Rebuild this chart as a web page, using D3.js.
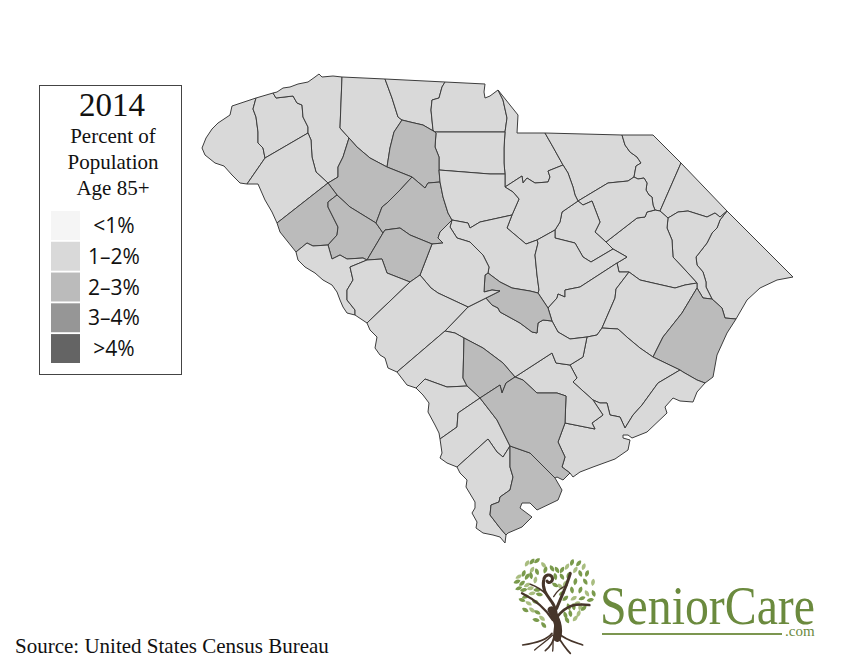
<!DOCTYPE html>
<html>
<head>
<meta charset="utf-8">
<title>South Carolina, percent of population age 85+, 2014</title>
<script src="https://cdnjs.cloudflare.com/ajax/libs/d3/7.8.5/d3.min.js"></script>
<style>
  html, body { margin: 0; background: #fff; }
  svg { display: block; }
  .serif { font-family: "Liberation Serif", serif; fill: #111; }
  .county { stroke: #3d3d3d; stroke-width: 1; stroke-linejoin: round; }
</style>
</head>
<body>
<svg id="chart" width="850" height="672"></svg>
<script>
// Legend
var bandLabels = ["<1%", "1\u20132%", "2\u20133%", "3\u20134%", ">4%"];
var bandBreaks = [1, 2, 3, 4];
var bandColors = ["#f5f5f5", "#d9d9d9", "#bbbbbb", "#969696", "#646464"];

// County borders in map units. Each border is shared by two counties.
var oconeeOuter = [[256,98],[244,102],[232,106],[230,115],[218,123],[212,129],[206,138],[202,148],[205,155],[215,163],[224,166],[232,175],[240,183],[247,184]];
var oconeePickens = [[256,98],[253,109],[256,117],[258,132],[258,143],[263,148],[265,158]];
var oconeeAnderson = [[247,184],[265,158]];
var pickensTop = [[256,98],[273,93]];
var pickensGreenville = [[273,93],[276,98],[293,96],[297,103],[302,105],[303,117],[308,127],[308,133]];
var pickensAnderson = [[265,158],[308,133]];
var greenvilleTop = [[273,93],[277,92],[283,88],[290,87],[298,84],[308,82],[315,77],[319,74],[322,77],[333,76],[342,77]];
var greenvilleSpartanburg = [[342,77],[340,128],[349,138]];
var greenvilleLaurens = [[349,138],[343,157],[338,167],[338,177],[328,183]];
var greenvilleAnderson = [[308,133],[311,140],[312,157],[316,172],[328,183]];
var andersonAbbeville = [[328,183],[277,223]];
var andersonRiver = [[247,184],[258,184],[265,200],[272,212],[277,223]];
var abbevilleRiver = [[277,223],[280,232],[288,242],[296,252]];
var abbevilleMcCormick = [[296,252],[307,243],[313,246],[328,245]];
var abbevilleGreenwood = [[328,245],[337,235],[338,227],[333,217],[328,207],[328,202],[337,195]];
var abbevilleLaurens = [[328,183],[337,195]];
var greenwoodLaurens = [[337,195],[350,207],[376,223]];
var laurensNewberry = [[376,223],[382,207],[387,203],[400,190],[412,177]];
var laurensSpartanburg = [[349,138],[357,147],[370,158],[387,167]];
var laurensUnion = [[387,167],[412,177]];
var greenwoodNewberry = [[376,223],[383,233]];
var newberrySaluda = [[383,233],[385,230],[400,228],[410,235],[432,244]];
var greenwoodSaluda = [[383,233],[367,260]];
var greenwoodMcCormick = [[328,245],[332,259],[340,255],[347,259],[363,258],[367,260]];
var mccormickEdgefield = [[367,260],[350,267],[353,280],[347,290],[347,300],[355,310],[355,315]];
var mccormickRiver = [[296,252],[298,260],[305,267],[315,273],[323,280],[332,285],[337,292],[340,300],[343,307],[347,313],[355,315]];
var edgefieldSaluda = [[367,260],[382,259],[387,273],[410,282]];
var edgefieldAiken = [[410,282],[367,323]];
var edgefieldRiver = [[355,315],[367,323]];
var saludaAiken = [[410,282],[420,275]];
var saludaLexington = [[420,275],[432,244]];
var aikenRiver = [[367,323],[370,330],[377,337],[375,348],[380,355],[385,358],[388,368],[397,372]];
var aikenBarnwell = [[397,372],[445,331]];
var aikenOrangeburg = [[445,331],[468,307]];
var aikenLexington = [[420,275],[431,288],[438,293],[453,300],[468,307]];
var newberryLexington = [[432,244],[443,243],[438,238],[440,232],[452,220]];
var newberryFairfield = [[440,182],[443,197],[448,213],[452,220]];
var newberryUnion = [[412,177],[425,188],[428,183],[440,182]];
var unionCherokee = [[402,120],[410,122],[423,125],[435,132]];
var unionSpartanburg = [[402,120],[394,132],[390,148],[387,167]];
var unionFairfield = [[440,182],[439,170]];
var unionChester = [[439,170],[439,157],[435,147],[436,133],[435,132]];
var spartanburgCherokee = [[385,79],[392,98],[398,117],[402,120]];
var spartanburgTop = [[342,77],[385,79]];
var cherokeeTop = [[385,79],[445,82]];
var cherokeeYork = [[445,82],[442,87],[439,98],[432,100],[431,110],[433,130],[435,132]];
var yorkTop = [[445,82],[485,84],[484,92],[485,98],[490,96],[498,90]];
var yorkLancaster = [[498,90],[503,100],[507,118],[505,132]];
var yorkChester = [[435,132],[505,132]];
var lancasterTop = [[498,90],[518,115],[517,133],[545,133]];
var lancasterChesterfield = [[545,133],[553,147],[563,165]];
var lancasterKershaw = [[563,165],[548,171],[550,177],[548,182],[535,183],[527,178],[523,183],[522,176],[505,187]];
var lancasterChester = [[505,132],[504,148],[504,163],[505,174]];
var lancasterFairfield = [[505,174],[505,187]];
var chesterFairfield = [[439,170],[490,174],[505,174]];
var fairfieldKershaw = [[505,187],[513,192],[519,199],[512,215]];
var fairfieldRichland = [[512,215],[480,222],[470,228],[468,223],[452,220]];
var kershawRichland = [[512,215],[507,228],[526,244],[537,240]];
var kershawChesterfield = [[563,165],[568,173],[573,187],[575,195],[578,201]];
var kershawLee = [[578,201],[562,212],[560,222],[555,230]];
var kershawSumter = [[555,230],[537,240]];
var richlandLexington = [[452,220],[450,227],[457,238],[470,242],[483,255],[489,267],[488,273]];
var richlandSumter = [[537,240],[538,243],[535,255],[537,275],[539,290],[538,293]];
var richlandCalhoun = [[488,273],[500,282],[512,288],[530,291],[538,293]];
var lexingtonCalhoun = [[486,298],[500,291],[492,290],[484,292],[485,275],[488,273]];
var lexingtonOrangeburg = [[468,307],[486,298]];
var calhounSumter = [[538,293],[548,308]];
var calhounClarendon = [[548,308],[552,321]];
var calhounOrangeburg = [[486,298],[492,305],[498,308],[500,312],[520,323],[532,332],[537,333],[538,323],[543,320],[552,321]];
var leeSumter = [[555,230],[555,238],[575,243],[583,257],[591,262],[613,249]];
var leeDarlington = [[578,201],[583,205],[592,201],[600,222],[595,232],[606,242]];
var leeFlorence = [[606,242],[613,249]];
var sumterFlorence = [[613,249],[627,257],[617,263]];
var sumterClarendon = [[617,263],[580,287],[565,290],[565,297],[558,294],[557,298],[548,308]];
var chesterfieldTop = [[545,133],[622,135]];
var chesterfieldMarlboro = [[622,135],[625,145],[630,152],[637,157],[641,163],[636,166],[634,177]];
var chesterfieldDarlington = [[634,177],[628,181],[608,183],[578,201]];
var darlingtonMarlboro = [[634,177],[638,179],[644,178],[647,183],[646,190],[649,195],[652,197],[653,205],[655,210]];
var darlingtonFlorence = [[655,210],[647,212],[645,217],[637,218],[606,242]];
var marlboroTop = [[622,135],[653,135],[681,163]];
var marlboroDillon = [[681,163],[660,211]];
var marlboroFlorence = [[660,211],[655,210]];
var dillonTop = [[681,163],[727,211]];
var dillonMarion = [[668,218],[678,212],[688,211],[707,217],[715,213],[720,217],[727,211]];
var dillonFlorence = [[660,211],[668,218]];
var marionFlorence = [[668,218],[667,228],[672,240],[673,257],[687,272],[697,283]];
var marionWilliamsburg = [[697,283],[697,288]];
var marionGeorgetown = [[697,288],[703,298],[712,299]];
var marionHorry = [[727,211],[720,220],[717,228],[712,233],[707,243],[700,252],[696,257],[697,265],[703,272],[706,282],[706,287],[712,299]];
var horryNortheast = [[727,211],[793,277]];
var horryCoast = [[793,277],[777,280],[760,288],[747,300],[736,319]];
var horryGeorgetown = [[736,319],[725,318],[722,308],[712,299]];
var florenceClarendon = [[617,263],[619,272],[629,272]];
var florenceWilliamsburg = [[629,272],[640,280],[653,283],[675,288],[685,285],[697,283]];
var clarendonWilliamsburg = [[629,272],[616,289],[615,298],[602,328]];
var clarendonBerkeley = [[602,328],[597,335],[587,337]];
var clarendonOrangeburg = [[587,337],[570,339],[558,332],[552,321]];
var williamsburgGeorgetown = [[653,357],[663,337],[682,313],[697,288]];
var williamsburgBerkeley = [[602,328],[618,329],[628,338],[640,348],[653,357]];
var georgetownCoast = [[736,319],[727,333],[717,355],[713,377],[705,383]];
var georgetownCharleston = [[680,370],[683,372],[697,380],[705,383]];
var georgetownBerkeley = [[653,357],[680,370]];
var berkeleyCharleston = [[680,370],[658,383],[642,405],[633,415],[625,428],[620,417],[610,415],[607,403],[600,403],[593,400]];
var berkeleyDorchester = [[570,365],[577,378],[573,382],[593,400]];
var berkeleyOrangeburg = [[587,337],[583,357],[570,365]];
var charlestonCoast = [[705,383],[697,392],[693,402],[680,401],[673,398],[665,407],[667,413],[647,432],[632,438],[628,435],[623,435],[623,438],[630,440],[628,450],[615,459],[593,467],[580,472],[573,477],[570,473]];
var dorchesterColleton = [[515,377],[523,380],[537,393],[557,393],[566,396],[565,423]];
var charlestonColleton = [[565,423],[558,442],[565,457],[562,467],[570,473]];
var dorchesterCharleston = [[593,400],[603,415],[592,423],[595,429],[565,423]];
var orangeburgDorchester = [[570,365],[556,363],[552,353],[515,377]];
var bambergOrangeburg = [[464,338],[483,348],[503,363],[515,377]];
var barnwellOrangeburg = [[445,331],[455,333],[464,338]];
var bambergColleton = [[480,398],[500,385],[502,393],[506,383],[515,377]];
var allendaleBamberg = [[467,386],[480,398]];
var barnwellBamberg = [[464,338],[463,378],[467,386]];
var barnwellAllendale = [[416,388],[425,379],[447,387],[467,386]];
var barnwellRiver = [[397,372],[407,385],[416,388]];
var allendaleHampton = [[440,439],[457,427],[458,413],[480,398]];
var allendaleRiver = [[416,388],[423,395],[429,403],[428,412],[435,425],[439,433],[440,439]];
var hamptonColleton = [[480,398],[497,420],[510,446]];
var hamptonJasper = [[457,467],[488,439],[497,452],[503,457],[510,446]];
var hamptonRiver = [[440,439],[442,453],[440,458],[447,463],[457,467]];
var jasperBeaufort = [[510,446],[510,467],[513,477],[510,490],[500,497],[499,502],[491,505],[490,515],[500,528],[506,535]];
var jasperRiver = [[457,467],[460,473],[467,480],[466,487],[472,497],[475,502],[475,508],[472,513],[477,522],[476,528],[483,533],[493,535],[500,537],[505,543],[506,535]];
var beaufortColleton = [[510,446],[530,453],[540,463],[555,478]];
var beaufortCoast = [[555,478],[562,490],[558,500],[537,510],[530,503],[522,503],[520,508],[532,517],[522,527],[508,533],[506,535]];
var colletonCoast = [[570,473],[563,480],[557,477],[555,478]];

// reverse a border so it can be walked the other way round a county
function r(border) {
  return border.slice().reverse();
}
// string borders into one closed ring
function ring() {
  var pts = [];
  Array.from(arguments).forEach(function(border) {
    pts = pts.concat(border.slice(pts.length ? 1 : 0));
  });
  return pts;
}

var countyNames = ["Oconee","Pickens","Greenville","Spartanburg","Cherokee","York","Lancaster","Chesterfield","Marlboro","Dillon","Horry","Marion","Florence","Darlington","Lee","Kershaw","Chester","Union","Laurens","Anderson","Abbeville","Greenwood","Newberry","Fairfield","Richland","Sumter","Clarendon","Williamsburg","Georgetown","Berkeley","Charleston","Dorchester","Orangeburg","Calhoun","Lexington","Saluda","McCormick","Edgefield","Aiken","Barnwell","Bamberg","Allendale","Hampton","Jasper","Beaufort","Colleton"];

var countyShares = [1.5,1.5,1.5,1.5,1.5,1.5,1.5,1.5,1.5,1.5,1.5,1.5,1.5,1.5,1.5,1.5,1.5,2.5,2.5,1.5,2.5,2.5,2.5,1.5,1.5,1.5,1.5,1.5,2.5,1.5,1.5,1.5,1.5,2.5,1.5,2.5,1.5,1.5,1.5,1.5,2.5,1.5,1.5,1.5,2.5,2.5];

var countyRings = [
  ring(oconeeOuter, oconeeAnderson, r(oconeePickens)),
  ring(pickensTop, pickensGreenville, r(pickensAnderson), r(oconeePickens)),
  ring(greenvilleTop, greenvilleSpartanburg, greenvilleLaurens, r(greenvilleAnderson), r(pickensGreenville)),
  ring(spartanburgTop, spartanburgCherokee, unionSpartanburg, r(laurensSpartanburg), r(greenvilleSpartanburg)),
  ring(cherokeeTop, cherokeeYork, r(unionCherokee), r(spartanburgCherokee)),
  ring(yorkTop, yorkLancaster, r(yorkChester), r(cherokeeYork)),
  ring(lancasterTop, lancasterChesterfield, lancasterKershaw, r(lancasterFairfield), r(lancasterChester), r(yorkLancaster)),
  ring(chesterfieldTop, chesterfieldMarlboro, chesterfieldDarlington, r(kershawChesterfield), r(lancasterChesterfield)),
  ring(marlboroTop, marlboroDillon, marlboroFlorence, r(darlingtonMarlboro), r(chesterfieldMarlboro)),
  ring(dillonTop, r(dillonMarion), r(dillonFlorence), r(marlboroDillon)),
  ring(horryNortheast, horryCoast, horryGeorgetown, r(marionHorry)),
  ring(dillonMarion, marionHorry, r(marionGeorgetown), r(marionWilliamsburg), r(marionFlorence)),
  ring(r(darlingtonFlorence), r(marlboroFlorence), dillonFlorence, marionFlorence, r(florenceWilliamsburg), r(florenceClarendon), r(sumterFlorence), r(leeFlorence)),
  ring(r(chesterfieldDarlington), darlingtonMarlboro, darlingtonFlorence, r(leeDarlington)),
  ring(leeDarlington, leeFlorence, r(leeSumter), r(kershawLee)),
  ring(r(lancasterKershaw), kershawChesterfield, kershawLee, kershawSumter, r(kershawRichland), r(fairfieldKershaw)),
  ring(yorkChester, lancasterChester, r(chesterFairfield), unionChester),
  ring(unionCherokee, r(unionChester), r(unionFairfield), r(newberryUnion), r(laurensUnion), r(unionSpartanburg)),
  ring(r(greenvilleLaurens), laurensSpartanburg, laurensUnion, r(laurensNewberry), r(greenwoodLaurens), r(abbevilleLaurens)),
  ring(pickensAnderson, greenvilleAnderson, andersonAbbeville, r(andersonRiver), oconeeAnderson),
  ring(abbevilleLaurens, r(abbevilleGreenwood), r(abbevilleMcCormick), r(abbevilleRiver), r(andersonAbbeville)),
  ring(abbevilleGreenwood, greenwoodLaurens, greenwoodNewberry, greenwoodSaluda, r(greenwoodMcCormick)),
  ring(r(laurensNewberry), greenwoodNewberry, newberrySaluda, newberryLexington, r(newberryFairfield), r(newberryUnion)),
  ring(chesterFairfield, lancasterFairfield, fairfieldKershaw, fairfieldRichland, r(newberryFairfield), unionFairfield),
  ring(r(fairfieldRichland), kershawRichland, richlandSumter, r(richlandCalhoun), r(richlandLexington)),
  ring(r(kershawSumter), leeSumter, sumterFlorence, sumterClarendon, r(calhounSumter), r(richlandSumter)),
  ring(florenceClarendon, clarendonWilliamsburg, clarendonBerkeley, clarendonOrangeburg, r(calhounClarendon), r(sumterClarendon)),
  ring(florenceWilliamsburg, marionWilliamsburg, r(williamsburgGeorgetown), r(williamsburgBerkeley), r(clarendonWilliamsburg)),
  ring(marionGeorgetown, r(horryGeorgetown), georgetownCoast, r(georgetownCharleston), r(georgetownBerkeley), williamsburgGeorgetown),
  ring(williamsburgBerkeley, georgetownBerkeley, berkeleyCharleston, r(berkeleyDorchester), r(berkeleyOrangeburg), r(clarendonBerkeley)),
  ring(georgetownCharleston, charlestonCoast, r(charlestonColleton), r(dorchesterCharleston), r(berkeleyCharleston)),
  ring(r(orangeburgDorchester), berkeleyDorchester, dorchesterCharleston, r(dorchesterColleton)),
  ring(lexingtonOrangeburg, calhounOrangeburg, r(clarendonOrangeburg), berkeleyOrangeburg, orangeburgDorchester, r(bambergOrangeburg), r(barnwellOrangeburg), aikenOrangeburg),
  ring(richlandCalhoun, calhounSumter, calhounClarendon, r(calhounOrangeburg), lexingtonCalhoun),
  ring(newberryLexington, richlandLexington, r(lexingtonCalhoun), r(lexingtonOrangeburg), r(aikenLexington), saludaLexington),
  ring(newberrySaluda, r(saludaLexington), r(saludaAiken), r(edgefieldSaluda), r(greenwoodSaluda)),
  ring(r(abbevilleMcCormick), mccormickRiver, r(mccormickEdgefield), r(greenwoodMcCormick)),
  ring(edgefieldSaluda, edgefieldAiken, r(edgefieldRiver), r(mccormickEdgefield)),
  ring(saludaAiken, aikenLexington, r(aikenOrangeburg), r(aikenBarnwell), r(aikenRiver), r(edgefieldAiken)),
  ring(aikenBarnwell, barnwellOrangeburg, barnwellBamberg, r(barnwellAllendale), r(barnwellRiver)),
  ring(bambergOrangeburg, r(bambergColleton), r(allendaleBamberg), r(barnwellBamberg)),
  ring(barnwellAllendale, allendaleBamberg, r(allendaleHampton), r(allendaleRiver)),
  ring(allendaleHampton, hamptonColleton, r(hamptonJasper), r(hamptonRiver)),
  ring(hamptonJasper, jasperBeaufort, r(jasperRiver)),
  ring(r(jasperBeaufort), beaufortColleton, beaufortCoast),
  ring(bambergColleton, dorchesterColleton, charlestonColleton, colletonCoast, r(beaufortColleton), r(hamptonColleton))
];

// Logo leaves: x, y, angle, in zoomed logo units
var logoLeaves = [[45,25,30],[60,20,40],[75,17,50],[95,30,-40],[120,40,-30],[135,45,-30],[60,45,30],[75,50,-20],[35,55,20],[20,65,60],[45,65,30],[57,62,-10],[70,75,10],[15,80,70],[30,85,50],[45,90,60],[20,100,70],[35,105,80],[55,100,75],[75,105,90],[40,125,70],[60,115,80],[82,118,100],[30,135,110],[50,145,120],[70,140,110],[40,165,120],[60,165,130],[76,172,120],[72,195,100],[90,190,130],[95,210,140],[150,45,30],[165,35,30],[180,22,20],[200,25,40],[215,35,20],[150,65,-30],[170,60,30],[190,45,30],[205,55,-20],[225,55,20],[160,85,40],[190,80,10],[220,80,-30],[243,82,10],[180,105,-10],[205,105,20],[225,115,-30],[245,115,-20],[160,130,50],[185,130,60],[210,130,70],[235,135,80],[195,145,70],[170,155,160],[185,155,170],[205,155,200],[160,180,160],[175,175,170],[200,175,200],[215,160,230],[165,195,150],[190,190,220],[130,65,-10],[130,90,-60],[145,95,-40],[100,45,20],[150,115,60]];

var logoBranches = [
  {d: "M128,245 C128,210 142,180 125,150 C115,130 88,110 95,75 C98,58 116,55 121,68 C124,80 110,88 105,78", w: 9},
  {d: "M122,195 C100,160 70,135 30,115", w: 7},
  {d: "M105,120 C90,105 75,95 55,88", w: 5},
  {d: "M134,160 C150,120 165,90 175,55", w: 9},
  {d: "M136,185 C165,150 190,145 232,150", w: 8},
  {d: "M125,125 C135,108 150,96 165,92", w: 4},
  {d: "M136,250 C146,215 132,190 118,165", w: 22},
  {d: "M120,235 C105,255 70,265 32,270", w: 5},
  {d: "M128,240 C125,260 115,275 100,287", w: 5},
  {d: "M135,240 C150,265 160,280 175,295", w: 5},
  {d: "M140,235 C160,255 190,262 212,270", w: 5},
  {d: "M127,240 C120,255 125,270 122,288", w: 4},
  {d: "M122,240 C100,262 85,270 68,285", w: 4}
];

var svg = d3.select("#chart");

// Map
var colorScale = d3.scaleThreshold().domain(bandBreaks).range(bandColors);

var counties = countyNames.map(function(name, i) {
  return {
    type: "Feature",
    properties: { name: name, share: countyShares[i] },
    geometry: { type: "Polygon", coordinates: [countyRings[i]] }
  };
});

var mapPath = d3.geoPath(d3.geoIdentity());

svg.append("g").selectAll("path")
  .data(counties)
  .enter()
  .append("path")
  .attr("class", "county")
  .attr("d", mapPath)
  .attr("fill", function(d) { return colorScale(d.properties.share); })
  .append("title")
  .text(function(d) { return d.properties.name; });

// Legend box
var legend = svg.append("g");

legend.append("rect")
  .attr("x", 39.5)
  .attr("y", 85.5)
  .attr("width", 142)
  .attr("height", 289)
  .attr("fill", "#fff")
  .attr("stroke", "#444");

legend.append("text")
  .attr("class", "serif")
  .attr("x", 112)
  .attr("y", 116)
  .attr("text-anchor", "middle")
  .attr("font-size", 33)
  .text("2014");

var titleLines = ["Percent of", "Population", "Age 85+"];
legend.selectAll(".line")
  .data(titleLines)
  .enter()
  .append("text")
  .attr("class", "serif line")
  .attr("x", 113)
  .attr("y", function(d, i) { return 143 + i * 26; })
  .attr("text-anchor", "middle")
  .attr("font-size", 21)
  .text(function(d) { return d; });

var legendY = d3.scaleBand().domain(bandLabels).range([211, 363]).paddingInner(0.06);

legend.selectAll(".swatch")
  .data(bandLabels)
  .enter()
  .append("rect")
  .attr("class", "swatch")
  .attr("x", 51)
  .attr("y", function(d) { return legendY(d); })
  .attr("width", 29)
  .attr("height", legendY.bandwidth())
  .attr("fill", function(d, i) { return bandColors[i]; });

legend.selectAll(".band")
  .data(bandLabels)
  .enter()
  .append("text")
  .attr("class", "band")
  .attr("x", 114)
  .attr("y", function(d) { return legendY(d) + 22; })
  .attr("text-anchor", "middle")
  .attr("font-family", "'Open Sans', sans-serif")
  .attr("font-size", 21)
  .attr("fill", "#111")
  .text(function(d) { return d; });

// Source
svg.append("text")
  .attr("class", "serif")
  .attr("x", 15)
  .attr("y", 653)
  .attr("font-size", 21)
  .text("Source: United States Census Bureau");

// Logo
var logo = svg.append("g");
var tree = logo.append("g").attr("transform", "translate(512,555) scale(0.3333)");

tree.selectAll(".leaf")
  .data(logoLeaves)
  .enter()
  .append("path")
  .attr("class", "leaf")
  .attr("d", "M0,-11 C7.5,-6 7.5,5 0,11 C-7.5,5 -7.5,-6 0,-11 Z")
  .attr("transform", function(d) { return "translate(" + d[0] + "," + d[1] + ") rotate(" + d[2] + ")"; })
  .attr("fill", function(d, i) { return i % 3 === 0 ? "#a9bd80" : "#7a9a4c"; });

tree.selectAll(".branch")
  .data(logoBranches)
  .enter()
  .append("path")
  .attr("class", "branch")
  .attr("d", function(d) { return d.d; })
  .attr("fill", "none")
  .attr("stroke", "#46352a")
  .attr("stroke-linecap", "round")
  .attr("stroke-width", function(d) { return d.w; });

// ".com" hangs off the same text line so the two parts stay together
var wordmark = logo.append("text")
  .attr("x", 600)
  .attr("y", 624)
  .attr("font-family", "'Liberation Serif', serif")
  .attr("fill", "#6b8a3e");

wordmark.append("tspan")
  .attr("font-size", 54)
  .attr("textLength", 215)
  .attr("lengthAdjust", "spacingAndGlyphs")
  .text("SeniorCare");

wordmark.append("tspan")
  .attr("x", 785)
  .attr("y", 636)
  .attr("font-size", 15)
  .text(".com");

logo.append("rect")
  .attr("x", 602)
  .attr("y", 633)
  .attr("width", 180)
  .attr("height", 2)
  .attr("fill", "#7c9650");
</script>
</body>
</html>
